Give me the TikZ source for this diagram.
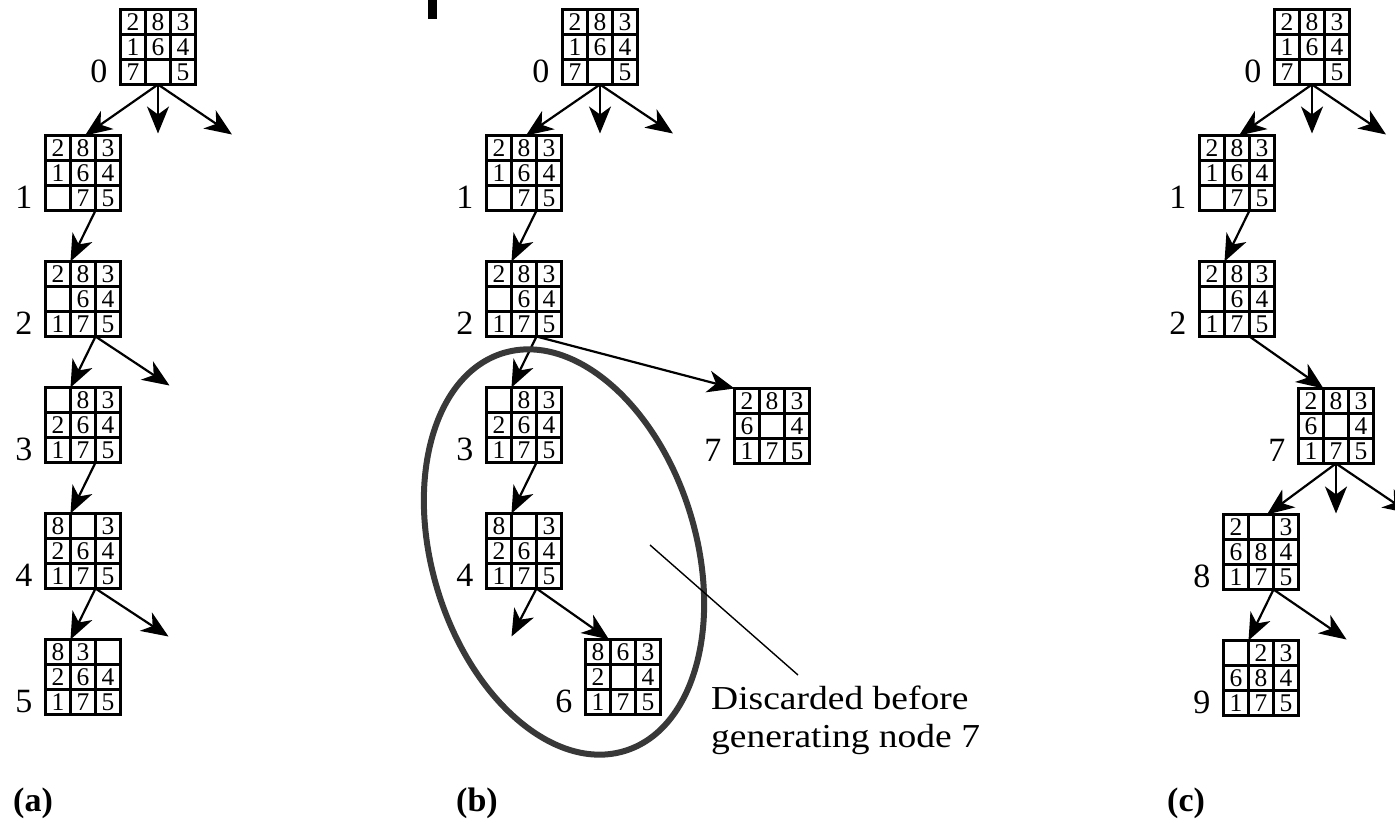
\documentclass[tikz,border=0pt]{standalone}
\usepackage{fontspec}
\setmainfont{Liberation Serif}
\newfontfamily\widefont[FakeStretch=1.12]{Liberation Serif}
\usetikzlibrary{arrows.meta,calc}
\tikzset{
  board/.style={draw, line width=2.4pt, minimum size=75pt, inner sep=0pt, outer sep=0pt},
  cellline/.style={line width=2.2pt},
  digit/.style={font=\fontsize{25.5}{25.5}\selectfont, inner sep=0pt},
  lab/.style={font=\fontsize{34}{34}\selectfont, inner sep=0pt, anchor=base east},
  edge/.style={line width=2.2pt, -{Stealth[length=27pt,width=22pt,inset=8pt]}},
  oval/.style={line width=6pt, draw=black!78},
  pointer/.style={line width=1.4pt},
  caption/.style={font=\widefont\fontsize{33.5}{38}\selectfont, inner sep=0pt, align=left},
  panel/.style={font=\fontsize{34}{34}\selectfont\bfseries, inner sep=0pt, anchor=base west}
}
\newcommand\puz[4]{%
  \node[board] (#1) at (#2) {};
  \node[lab] (#1l) at ([xshift=-13pt,yshift=2pt]#1.south west) {#3};
  \begin{scope}[shift={(#1.center)}]
    \draw[cellline] (-12.5,-37.5) -- (-12.5,37.5) (12.5,-37.5) -- (12.5,37.5)
                    (-37.5,-12.5) -- (37.5,-12.5) (-37.5,12.5) -- (37.5,12.5);
    \foreach \d [count=\i from 0] in {#4} {
      \node[digit] (#1d\i) at ({(mod(\i,3)-1)*25},{(int(\i/3)-1)*25+0.5}) {\d};
    }
  \end{scope}
}
\begin{document}
\begin{tikzpicture}[x=1pt, y=-1pt]
\useasboundingbox (0,0) rectangle (1395,822);
\clip (0,0) rectangle (1395,822);
\fill (428,0) rectangle (437,19);

% ---------- panel (a)
\puz{a0}{158,47}{0}{2,8,3,1,6,4,7,{},5}
\puz{a1}{83,173}{1}{2,8,3,1,6,4,{},7,5}
\puz{a2}{83,299}{2}{2,8,3,{},6,4,1,7,5}
\puz{a3}{83,425}{3}{{},8,3,2,6,4,1,7,5}
\puz{a4}{83,551}{4}{8,{},3,2,6,4,1,7,5}
\puz{a5}{83,677}{5}{8,3,{},2,6,4,1,7,5}

\coordinate (a0m) at ($(a0.south)+(0,49)$);
\coordinate (a0r) at ($(a0.south)+(74,50)$);
\coordinate (a2r) at ($([xshift=12.5pt]a2.south)+(74,49)$);
\coordinate (a4r) at ($([xshift=12.5pt]a4.south)+(73,48)$);
\draw[edge] (a0.south) -- ([xshift=2pt]a1.north);
\draw[edge] (a0.south) -- (a0m);
\draw[edge] (a0.south) -- (a0r);
\draw[edge] ([xshift=12.5pt]a1.south) -- ([xshift=-12.5pt]a2.north);
\draw[edge] ([xshift=12.5pt]a2.south) -- ([xshift=-12.5pt]a3.north);
\draw[edge] ([xshift=12.5pt]a2.south) -- (a2r);
\draw[edge] ([xshift=12.5pt]a3.south) -- ([xshift=-12.5pt]a4.north);
\draw[edge] ([xshift=12.5pt]a4.south) -- ([xshift=-12.5pt]a5.north);
\draw[edge] ([xshift=12.5pt]a4.south) -- (a4r);

% ---------- panel (b)
\puz{b0}{600,47}{0}{2,8,3,1,6,4,7,{},5}
\puz{b1}{524,173}{1}{2,8,3,1,6,4,{},7,5}
\puz{b2}{524,299}{2}{2,8,3,{},6,4,1,7,5}
\puz{b3}{524,425}{3}{{},8,3,2,6,4,1,7,5}
\puz{b4}{524,551}{4}{8,{},3,2,6,4,1,7,5}
\puz{b6}{623,677}{6}{8,6,3,2,{},4,1,7,5}
\puz{b7}{772,426}{7}{2,8,3,6,{},4,1,7,5}

\coordinate (b0m) at ($(b0.south)+(0,49)$);
\coordinate (b0r) at ($(b0.south)+(73,49)$);
\coordinate (b4l) at ($([xshift=12.5pt]b4.south)+(-25,48)$);
\draw[edge] (b0.south) -- ([xshift=2pt]b1.north);
\draw[edge] (b0.south) -- (b0m);
\draw[edge] (b0.south) -- (b0r);
\draw[edge] ([xshift=12.5pt]b1.south) -- ([xshift=-12.5pt]b2.north);
\draw[edge] ([xshift=12.5pt]b2.south) -- ([xshift=-12.5pt]b3.north);
\draw[edge] ([xshift=12.5pt]b2.south) -- (b7.north west);
\draw[edge] ([xshift=12.5pt]b3.south) -- ([xshift=-12.5pt]b4.north);
\draw[edge] ([xshift=12.5pt]b4.south) -- (b4l);
\draw[edge] ([xshift=12.5pt]b4.south) -- ([xshift=-14pt]b6.north);

\draw[oval, shift={(564,552)}, rotate=17] (0,0) ellipse [x radius=132pt, y radius=208pt];
\coordinate (p1) at (650,545);
\coordinate (p2) at (798,675);
\draw[pointer] (p1) -- (p2);
\node[caption, anchor=north west] (note) at (711,686) {Discarded before\\generating node 7};

% ---------- panel (c)
\puz{c0}{1312,47}{0}{2,8,3,1,6,4,7,{},5}
\puz{c1}{1237,173}{1}{2,8,3,1,6,4,{},7,5}
\puz{c2}{1237,299}{2}{2,8,3,{},6,4,1,7,5}
\puz{c7}{1336,426}{7}{2,8,3,6,{},4,1,7,5}
\puz{c8}{1261,552}{8}{2,{},3,6,8,4,1,7,5}
\puz{c9}{1261,678}{9}{{},2,3,6,8,4,1,7,5}

\coordinate (c0m) at ($(c0.south)+(0,49)$);
\coordinate (c0r) at ($(c0.south)+(74,50)$);
\coordinate (c7m) at ($(c7.south)+(0,50)$);
\coordinate (c7r) at ($(c7.south)+(74,50)$);
\coordinate (c8r) at ($([xshift=12.5pt]c8.south)+(73,50)$);
\draw[edge] (c0.south) -- ([xshift=2pt]c1.north);
\draw[edge] (c0.south) -- (c0m);
\draw[edge] (c0.south) -- (c0r);
\draw[edge] ([xshift=12.5pt]c1.south) -- ([xshift=-12.5pt]c2.north);
\draw[edge] ([xshift=12.5pt]c2.south) -- ([xshift=-12.5pt]c7.north);
\draw[edge] (c7.south) -- ([xshift=6pt]c8.north);
\draw[edge] (c7.south) -- (c7m);
\draw[edge] (c7.south) -- (c7r);
\draw[edge] ([xshift=12.5pt]c8.south) -- ([xshift=-12.5pt]c9.north);
\draw[edge] ([xshift=12.5pt]c8.south) -- (c8r);

% ---------- panel labels
\node[panel] (pa) at (13,811) {(a)};
\node[panel] (pb) at (456,811) {(b)};
\node[panel] (pc) at (1167,811) {(c)};
\end{tikzpicture}
\end{document}
